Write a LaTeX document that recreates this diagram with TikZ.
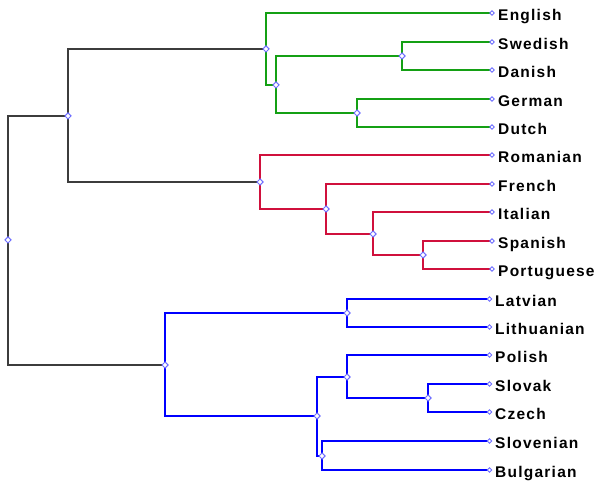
\documentclass[tikz,border=0pt]{standalone}
\usepackage{fontspec}
\setmainfont{Liberation Sans}
\newfontfamily\lblfont{Liberation Sans}[LetterSpace=8]
\usetikzlibrary{shapes.geometric}
\definecolor{ggreen}{RGB}{20,160,20}
\definecolor{rred}{RGB}{208,16,60}
\definecolor{bblue}{RGB}{0,0,255}
\definecolor{ggrey}{RGB}{60,60,60}
\definecolor{markblue}{RGB}{110,110,255}
\pgfdeclarelayer{bg}
\pgfsetlayers{bg,main}
\begin{document}
\begin{tikzpicture}[x=1pt,y=-1pt,
  branch/.style={line width=2.6pt},
  inner/.style={diamond, draw=markblue, fill=white, line width=1pt, inner sep=0pt, minimum size=6.5pt},
  leafmark/.style={diamond, draw=markblue, fill=white, line width=0.8pt, inner sep=0pt, minimum size=4.8pt},
  lbl/.style={anchor=base west, inner sep=0pt, font=\lblfont\bfseries\fontsize{15.5}{17}\selectfont},
]
\useasboundingbox (0,0) rectangle (595,481);
% internal nodes
\node[inner] (R)  at (8,240) {};
\node[inner] (A)  at (68,116) {};
\node[inner] (G)  at (266,49) {};
\node[inner] (G2) at (276,85) {};
\node[inner] (SD) at (402,56) {};
\node[inner] (GD) at (357,113) {};
\node[inner] (Ro) at (260,182) {};
\node[inner] (F)  at (326,209) {};
\node[inner] (I)  at (373,234) {};
\node[inner] (SP) at (423,255) {};
\node[inner] (BS) at (165,365) {};
\node[inner] (Ba) at (347,313) {};
\node[inner] (Sl) at (317,416) {};
\node[inner] (WS) at (347,377) {};
\node[inner] (SC) at (428,398) {};
\node[inner] (SS) at (322,456) {};
% leaves
\node[leafmark] (en) at (492,13) {};
\node[leafmark] (sw) at (492,42) {};
\node[leafmark] (da) at (492,70) {};
\node[leafmark] (ge) at (492,99) {};
\node[leafmark] (du) at (492,127) {};
\node[leafmark] (ro) at (492,155) {};
\node[leafmark] (fr) at (492,184) {};
\node[leafmark] (it) at (492,212) {};
\node[leafmark] (es) at (492,241) {};
\node[leafmark] (pt) at (492,269) {};
\node[leafmark] (lv) at (489.5,299) {};
\node[leafmark] (lt) at (489.5,327) {};
\node[leafmark] (pl) at (489.5,355) {};
\node[leafmark] (sk) at (489.5,384) {};
\node[leafmark] (cz) at (489.5,412) {};
\node[leafmark] (sl) at (489.5,441) {};
\node[leafmark] (bg) at (489.5,470) {};
% labels
\node[lbl] (en-t) at (498,20.5) {English};
\node[lbl] (sw-t) at (498,49.5) {Swedish};
\node[lbl] (da-t) at (498,77.5) {Danish};
\node[lbl] (ge-t) at (498,106.5) {German};
\node[lbl] (du-t) at (498,134.5) {Dutch};
\node[lbl] (ro-t) at (498,162.5) {Romanian};
\node[lbl] (fr-t) at (498,191.5) {French};
\node[lbl] (it-t) at (498,219.5) {Italian};
\node[lbl] (es-t) at (498,248.5) {Spanish};
\node[lbl] (pt-t) at (498,276.5) {Portuguese};
\node[lbl] (lv-t) at (495,306.5) {Latvian};
\node[lbl] (lt-t) at (495,334.5) {Lithuanian};
\node[lbl] (pl-t) at (495,362.5) {Polish};
\node[lbl] (sk-t) at (495,391.5) {Slovak};
\node[lbl] (cz-t) at (495,419.5) {Czech};
\node[lbl] (sl-t) at (495,448.5) {Slovenian};
\node[lbl] (bg-t) at (495,477.5) {Bulgarian};
\begin{pgfonlayer}{bg}
\draw[branch,ggrey] (R.center) |- (A.center);
\draw[branch,ggrey] (R.center) |- (BS.center);
\draw[branch,ggrey] (A.center) |- (G.center);
\draw[branch,ggrey] (A.center) |- (Ro.center);
\draw[branch,ggreen] (G.center) |- (en.center);
\draw[branch,ggreen] (G.center) |- (G2.center);
\draw[branch,ggreen] (G2.center) |- (SD.center);
\draw[branch,ggreen] (G2.center) |- (GD.center);
\draw[branch,ggreen] (SD.center) |- (sw.center);
\draw[branch,ggreen] (SD.center) |- (da.center);
\draw[branch,ggreen] (GD.center) |- (ge.center);
\draw[branch,ggreen] (GD.center) |- (du.center);
\draw[branch,rred] (Ro.center) |- (ro.center);
\draw[branch,rred] (Ro.center) |- (F.center);
\draw[branch,rred] (F.center) |- (fr.center);
\draw[branch,rred] (F.center) |- (I.center);
\draw[branch,rred] (I.center) |- (it.center);
\draw[branch,rred] (I.center) |- (SP.center);
\draw[branch,rred] (SP.center) |- (es.center);
\draw[branch,rred] (SP.center) |- (pt.center);
\draw[branch,bblue] (BS.center) |- (Ba.center);
\draw[branch,bblue] (BS.center) |- (Sl.center);
\draw[branch,bblue] (Ba.center) |- (lv.center);
\draw[branch,bblue] (Ba.center) |- (lt.center);
\draw[branch,bblue] (Sl.center) |- (WS.center);
\draw[branch,bblue] (Sl.center) |- (SS.center);
\draw[branch,bblue] (WS.center) |- (pl.center);
\draw[branch,bblue] (WS.center) |- (SC.center);
\draw[branch,bblue] (SC.center) |- (sk.center);
\draw[branch,bblue] (SC.center) |- (cz.center);
\draw[branch,bblue] (SS.center) |- (sl.center);
\draw[branch,bblue] (SS.center) |- (bg.center);
\end{pgfonlayer}
\end{tikzpicture}
\end{document}
